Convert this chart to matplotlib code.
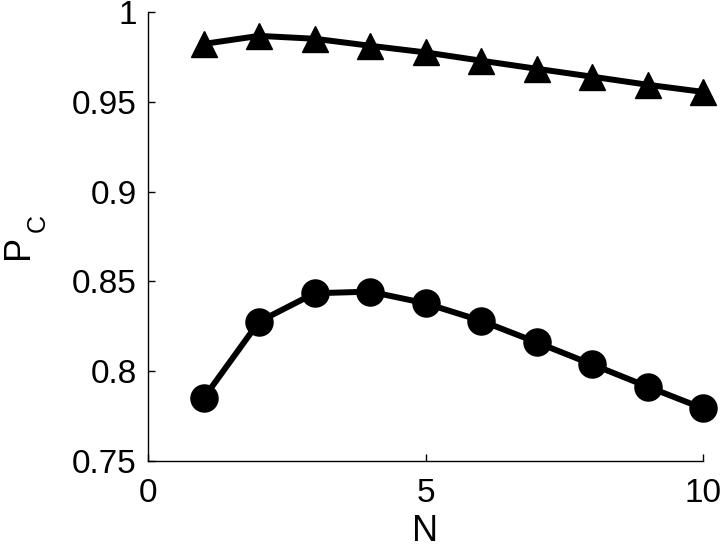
import numpy as np
import matplotlib.pyplot as plt

plt.rcParams['font.family'] = ['Liberation Sans', 'DejaVu Sans']

# data
n_vals = [1, 2, 3, 4, 5, 6, 7, 8, 9, 10]
pc_triangle = [0.9822, 0.9867, 0.9851, 0.9812, 0.9775, 0.9729, 0.9684, 0.9640, 0.9595, 0.9555]
pc_circle = [0.7849, 0.8276, 0.8434, 0.8443, 0.8378, 0.8281, 0.8161, 0.8038, 0.7914, 0.7793]

fig = plt.figure(figsize=(7.2, 5.5), dpi=100)
ax = fig.add_axes([0.2056, 0.1618, 0.7708, 0.8164])

ax.plot(n_vals, pc_triangle, '-^', color='black', lw=4.3, ms=19, mfc='black', clip_on=False)
ax.plot(n_vals, pc_circle, '-o', color='black', lw=4.3, ms=19.5, mfc='black', clip_on=False)

ax.set_xlim(0, 10)
ax.set_ylim(0.75, 1)
ax.set_xticks([0, 5, 10])
ax.set_yticks([0.75, 0.8, 0.85, 0.9, 0.95, 1])
ax.set_yticklabels(['0.75', '0.8', '0.85', '0.9', '0.95', '1'])

for side in ['top', 'right']:
    ax.spines[side].set_visible(False)
for side in ['left', 'bottom']:
    ax.spines[side].set_linewidth(1.0)

ax.tick_params(direction='in', length=5, width=1, labelsize=24)
ax.tick_params(axis='x', pad=12)
ax.tick_params(axis='y', pad=8)

ax.set_xlabel('N', fontsize=26, labelpad=4)

# y label: P with subscript C, drawn as two rotated texts
fig.text(0.002, 0.551, 'P', rotation=90, fontsize=26, ha='left', va='center')
fig.text(0.036, 0.594, 'C', rotation=90, fontsize=18, ha='left', va='center')

fig.savefig('out.png', dpi=100)
